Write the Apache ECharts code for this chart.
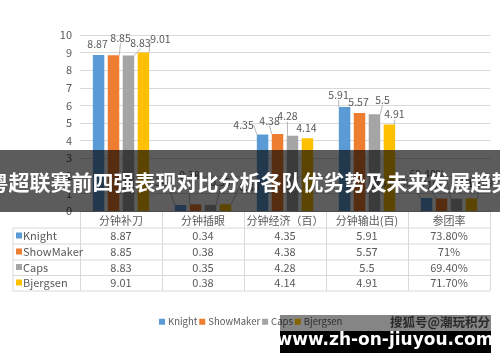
<!DOCTYPE html>
<html><head><meta charset="utf-8">
<script src="https://cdn.jsdelivr.net/npm/echarts@6/dist/echarts.min.js"></script>
<style>html,body{margin:0;padding:0;background:#fff}#c{width:500px;height:362px}</style>
</head><body><div id="c"></div>
<script>
// ---- data ----
const categories = ['分钟补刀', '分钟插眼', '分钟经济（百）', '分钟输出(百)', '参团率'];
const seriesNames = ['Knight', 'ShowMaker', 'Caps', 'Bjergsen'];
const knight    = [8.87, 0.34, 4.35, 5.91, 0.738];
const showMaker = [8.85, 0.38, 4.38, 5.57, 0.71];
const caps      = [8.83, 0.35, 4.28, 5.5, 0.694];
const bjergsen  = [9.01, 0.38, 4.14, 4.91, 0.717];
const yMin = 0, yMax = 10, yInterval = 1;
const percentCategory = '参团率';
const bannerTitle = '粤超联赛前四强表现对比分析各队优劣势及未来发展趋势';
const watermark = '搜狐号@潮玩积分';
const siteUrl = 'www.zh-on-jiuyou.com';

// ---- style ----
const colors = ['#5b9bd5', '#ed7d31', '#a5a5a5', '#ffc000'];
const txt = '#595959';
const lineC = '#d9d9d9';
const FONT = '"Noto Sans CJK SC", "Noto Sans", sans-serif';
// label shifts [dx, dy] per series / category (layout only)
const labelShift = [
  [[-1, -2], [-24, -14], [-19, 0], [-6, -3], [-34, -6]],
  [[7, -8], [-6, -20], [-8, -4], [-1, -2], [-10, -4]],
  [[12, -3], [10, -14], [-5, -10], [8, -5], [-29, -16]],
  [[17, -4], [24, -8], [-1, -1], [5, -1], [8, -6]]
];

const allSeries = [knight, showMaker, caps, bjergsen];

function fmt(v, catIdx) {
  if (categories[catIdx] === percentCategory) {
    let s = (v * 100).toFixed(2);
    if (s.endsWith('.00')) s = s.slice(0, -3);
    return s + '%';
  }
  return String(v);
}

const chart = echarts.init(document.getElementById('c'), null, {renderer: 'canvas'});

const series = allSeries.map((vals, s) => ({
  name: seriesNames[s],
  type: 'bar',
  barWidth: 11.5,
  barGap: '30%',
  itemStyle: {color: colors[s]},
  data: vals.map((v, i) => {
    const sh = labelShift[s][i];
    return {value: v, labelLine: {show: Math.abs(sh[0]) > 4 || Math.abs(sh[1]) > 4}};
  }),
  label: {
    show: true, position: 'top', distance: 4,
    color: txt, fontSize: 10.5, fontFamily: FONT,
    formatter: p => fmt(p.value, p.dataIndex)
  },
  labelLine: {lineStyle: {color: '#a6a6a6', width: 0.8}},
  labelLayout: p => ({dx: labelShift[s][p.dataIndex][0], dy: labelShift[s][p.dataIndex][1]})
}));

chart.setOption({
  animation: false,
  backgroundColor: '#fff',
  grid: {left: 80, right: 10, top: 35, bottom: 151, containLabel: false},
  legend: {
    left: 154, top: 312,
    itemWidth: 6, itemHeight: 6, itemGap: 2, icon: 'rect',
    textStyle: {color: txt, fontSize: 9.5, fontFamily: FONT, padding: [0, 0, 0, -2]},
    data: seriesNames
  },
  xAxis: {
    type: 'category', data: categories,
    axisLine: {lineStyle: {color: lineC}},
    axisTick: {show: true, length: 80, lineStyle: {color: lineC}},
    axisLabel: {color: txt, fontSize: 11, fontFamily: FONT, margin: 4, interval: 0}
  },
  yAxis: {
    type: 'value', min: yMin, max: yMax, interval: yInterval,
    axisLine: {show: false}, axisTick: {show: false},
    splitLine: {lineStyle: {color: lineC}},
    axisLabel: {color: txt, fontSize: 11, fontFamily: FONT, margin: 8}
  },
  series: series
});

// ---- table + overlays ----
const colX = categories.map(c => chart.convertToPixel({xAxisIndex: 0}, c));
const gridRight = 490, tableLeft = 13;
const rowY = [236, 252, 267.5, 283];
const hLines = [228, 244, 260, 275.5, 291];
const g = [];
hLines.forEach(y => g.push({type: 'line', shape: {x1: tableLeft, y1: y, x2: gridRight, y2: y},
  style: {stroke: lineC, lineWidth: 1}, z: 5}));
g.push({type: 'line', shape: {x1: tableLeft, y1: 228, x2: tableLeft, y2: 291}, style: {stroke: lineC, lineWidth: 1}, z: 5});
seriesNames.forEach((n, s) => {
  g.push({type: 'rect', shape: {x: 16, y: rowY[s] - 3.5, width: 6, height: 6}, style: {fill: colors[s]}, z: 6});
  g.push({type: 'text', z: 6, style: {text: n, x: 23, y: rowY[s], fill: txt, font: '11px ' + FONT, textVerticalAlign: 'middle', textAlign: 'left'}});
  allSeries[s].forEach((v, i) => {
    g.push({type: 'text', z: 6, style: {text: fmt(v, i), x: colX[i], y: rowY[s], fill: txt, font: '11px ' + FONT, textVerticalAlign: 'middle', textAlign: 'center'}});
  });
});
// banner
g.push({type: 'rect', shape: {x: 0, y: 150, width: 500, height: 62}, style: {fill: 'rgba(0,0,0,0.64)'}, z: 100});
g.push({type: 'text', z: 101, style: {text: bannerTitle, x: 250, y: 182, fill: '#fff', font: 'bold 21px ' + FONT, textAlign: 'center', textVerticalAlign: 'middle'}});
// bottom site box
g.push({type: 'rect', shape: {x: 280, y: 315, width: 211, height: 16}, style: {fill: 'rgba(0,0,0,0.48)'}, z: 100});
g.push({type: 'rect', shape: {x: 280, y: 331, width: 211, height: 22}, style: {fill: '#000'}, z: 100});
g.push({type: 'text', z: 101, style: {text: watermark, x: 490, y: 322, fill: '#2a2a2a', font: 'bold 12.5px ' + FONT, textAlign: 'right', textVerticalAlign: 'middle'}});
g.push({type: 'text', z: 101, style: {text: siteUrl, x: 385, y: 341, fill: '#fff', font: 'bold 17px "DejaVu Sans", sans-serif', textAlign: 'center', textVerticalAlign: 'middle'}});

chart.setOption({graphic: {elements: g}});
</script>
</body></html>
